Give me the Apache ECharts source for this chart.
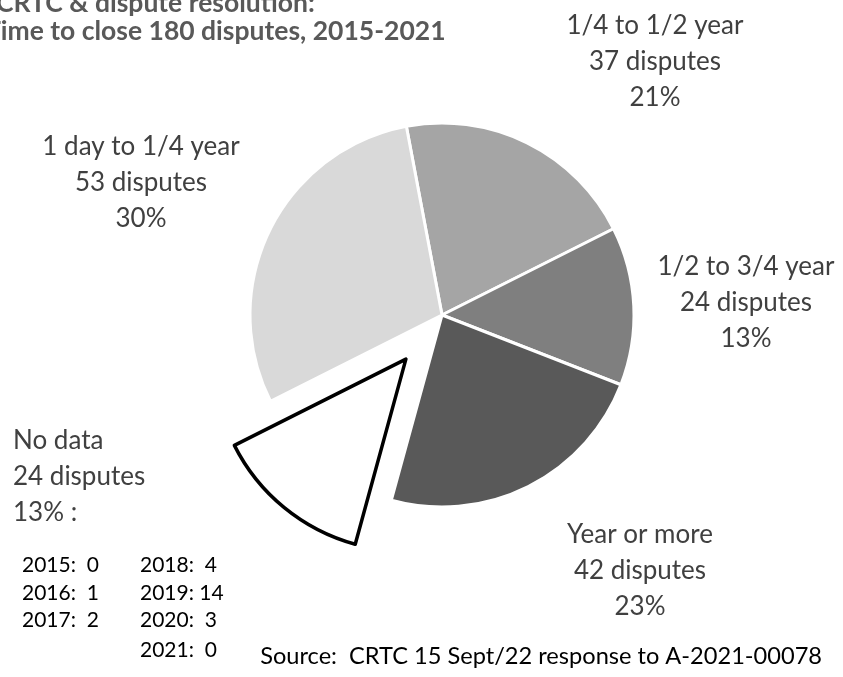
<!DOCTYPE html>
<html>
<head>
<meta charset="utf-8">
<script src="https://cdn.jsdelivr.net/npm/echarts@6/dist/echarts.min.js"></script>
<style>html,body{margin:0;padding:0;background:#fff;}#c{width:843px;height:677px;}</style>
</head>
<body>
<div id="c"></div>
<script>
// ---- data ----
const categories = ['1/4 to 1/2 year', '1/2 to 3/4 year', 'Year or more', 'No data', '1 day to 1/4 year'];
const disputes = [37, 24, 42, 24, 53];
const noDataYears = [2015, 2016, 2017, 2018, 2019, 2020, 2021];
const noDataCounts = [0, 1, 2, 4, 14, 3, 0];
const titleLines = ['CRTC & dispute resolution:', 'Time to close 180 disputes, 2015-2021'];
const sourceText = 'Source:  CRTC 15 Sept/22 response to A-2021-00078';
const explodedName = 'No data';

// ---- styling / layout ----
const fills = ['#a5a5a5', '#7f7f7f', '#595959', '#ffffff', '#d9d9d9'];
const CENTER = [442, 315];
const RADIUS = 192;
const START = 100.7;
const EXPLODE = 57;
const NODATA_W = 150;
const labelPos = [
  {x: 655, y: 62},
  {x: 746, y: 303},
  {x: 640, y: 571},
  {x: 13 + NODATA_W / 2, y: 477},
  {x: 141, y: 183}
];
const FONT = 'Lato';

// offset of the exploded slice along its mid angle
const total = disputes.reduce((a, b) => a + b, 0);
const exIdx = categories.indexOf(explodedName);
const before = disputes.slice(0, exIdx).reduce((a, b) => a + b, 0);
const midDeg = START - (before + disputes[exIdx] / 2) / total * 360;
const midRad = midDeg * Math.PI / 180;
const CENTER2 = [CENTER[0] + EXPLODE * Math.cos(midRad), CENTER[1] - EXPLODE * Math.sin(midRad)];

const chart = echarts.init(document.getElementById('c'));

const labelBase = {
  show: true,
  position: 'outside',
  overflow: 'none',
  color: '#404040',
  fontFamily: FONT,
  fontSize: 26,
  lineHeight: 36,
  rich: {
    l: {width: NODATA_W, align: 'left', color: '#404040', fontFamily: FONT, fontSize: 26, lineHeight: 36}
  },
  formatter: function (p) {
    const lines = [p.name, p.value + ' disputes', p.percent + '%' + (p.name === explodedName ? ' :' : '')];
    if (p.name === explodedName) return lines.map(s => '{l|' + s + '}').join('\n');
    return lines.join('\n');
  }
};
const hidden = {itemStyle: {color: 'rgba(0,0,0,0)', borderWidth: 0}, label: {show: false}};

const mainData = categories.map((name, i) => (name === explodedName)
  ? Object.assign({name: name, value: disputes[i]}, hidden)
  : {name: name, value: disputes[i], itemStyle: {color: fills[i], borderColor: '#ffffff', borderWidth: 3}});
const explodedData = categories.map((name, i) => (name === explodedName)
  ? {name: name, value: disputes[i], itemStyle: {color: fills[i], borderColor: '#000000', borderWidth: 3.5}}
  : Object.assign({name: name, value: disputes[i]}, hidden));

const labelLayout = function (params) {
  const pos = labelPos[params.dataIndex];
  return {x: pos.x, y: pos.y, align: 'center', verticalAlign: 'middle'};
};

const graphics = [];
titleLines.forEach((t, i) => {
  graphics.push({
    type: 'text', x: i === 0 ? -4 : -15, y: i === 0 ? -10 : 18,
    style: {text: t, fill: '#595959', font: 'bold 26.5px ' + FONT}
  });
});
const colX = [22, 140];
const rowY = [565, 593, 620, 650];
noDataYears.forEach((yr, i) => {
  const col = i < 3 ? 0 : 1;
  const row = i < 3 ? i : i - 3;
  const v = noDataCounts[i];
  graphics.push({
    type: 'text', x: colX[col], y: rowY[row],
    style: {text: yr + ':' + (v < 10 ? '  ' : ' ') + v, fill: '#000000', font: '21px ' + FONT, verticalAlign: 'middle'}
  });
});
graphics.push({
  type: 'text', x: 822, y: 656,
  style: {text: sourceText, fill: '#000000', font: '23.6px ' + FONT, align: 'right', verticalAlign: 'middle'}
});

const pieCommon = {
  type: 'pie',
  radius: RADIUS,
  startAngle: START,
  clockwise: true,
  percentPrecision: 0,
  silent: true,
  emphasis: {disabled: true},
  label: labelBase,
  labelLine: {show: false},
  labelLayout: labelLayout
};

chart.setOption({
  animation: false,
  backgroundColor: '#ffffff',
  series: [
    Object.assign({}, pieCommon, {center: CENTER, data: mainData}),
    Object.assign({}, pieCommon, {center: CENTER2, data: explodedData})
  ],
  graphic: graphics
});
</script>
</body>
</html>
